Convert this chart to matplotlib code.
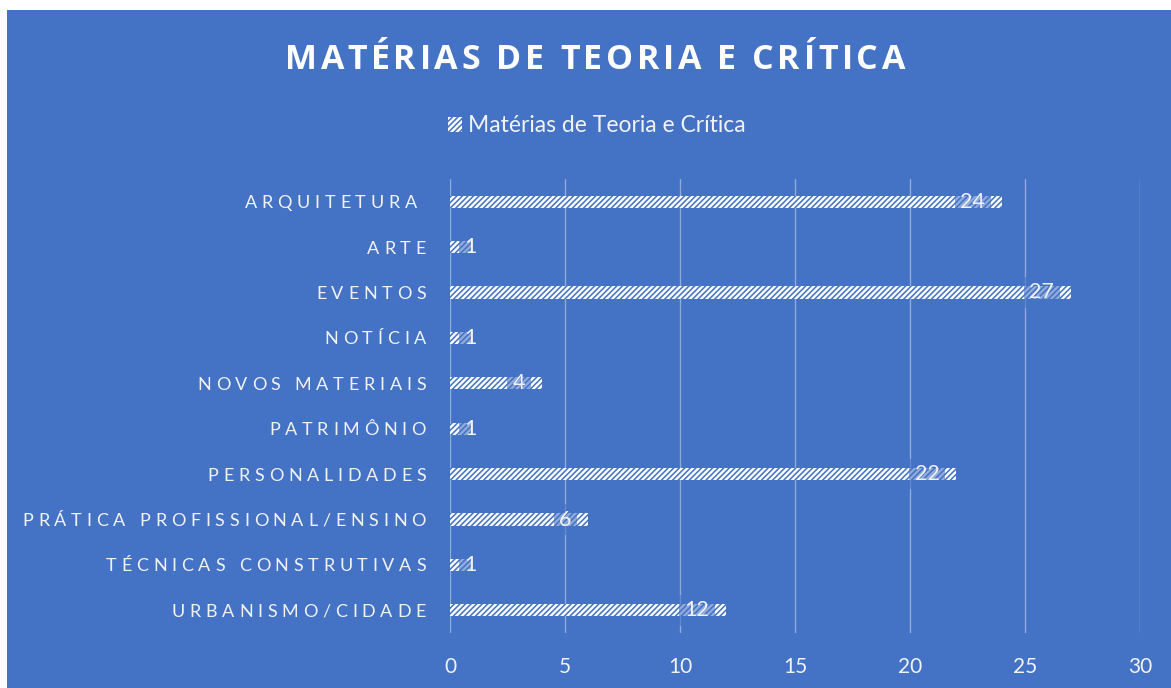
import matplotlib
matplotlib.use('Agg')
import matplotlib.pyplot as plt
from matplotlib.patches import Rectangle, Patch
from matplotlib.font_manager import FontProperties, findfont
from matplotlib.ft2font import FT2Font
from matplotlib.transforms import blended_transform_factory, offset_copy

# dados
categorias = ['ARQUITETURA ', 'ARTE', 'EVENTOS', 'NOTÍCIA', 'NOVOS MATERIAIS',
              'PATRIMÔNIO', 'PERSONALIDADES', 'PRÁTICA PROFISSIONAL/ENSINO',
              'TÉCNICAS CONSTRUTIVAS', 'URBANISMO/CIDADE']
valores = [24, 1, 27, 1, 4, 1, 22, 6, 1, 12]
x_ticks = [0, 5, 10, 15, 20, 25, 30]
titulo = 'MATÉRIAS DE TEORIA E CRÍTICA'
serie = 'Matérias de Teoria e Crítica'

azul = '#4472C4'
claro = '#F2F2F2'
plt.rcParams['font.family'] = ['Lato', 'DejaVu Sans']
plt.rcParams['hatch.linewidth'] = 1.7

W, H = 1171, 688
DPI = 100
fig = plt.figure(figsize=(W / DPI, H / DPI), dpi=DPI)
fig.patch.set_facecolor('white')
# fundo azul (com a margem branca em cima e a esquerda)
fig.add_artist(Rectangle((7 / W, 0), 1 - 7 / W, 1 - 10 / H, transform=fig.transFigure,
                         facecolor=azul, edgecolor='none', zorder=0))


def texto_espacado(x_px, y, s, size, track, transform, ha='left', family='Lato',
                   weight='normal', color='white'):
    """escreve o texto letra a letra com espaçamento extra (tracking) em px"""
    fp = FontProperties(family=family, weight=weight, size=size)
    f = FT2Font(findfont(fp))
    f.set_size(size, DPI)
    adv = [f.load_char(ord(c)).linearHoriAdvance / 65536 for c in s]
    total = sum(adv) + track * (len(s) - 1)
    x0 = x_px - total if ha == 'right' else (x_px - total / 2 if ha == 'center' else x_px)
    # linha de base abaixo do centro (metade da altura das maiúsculas)
    t = offset_copy(transform, fig=fig, y=-0.36 * size, units='points')
    for c, a in zip(s, adv):
        if c != ' ':
            fig.text(x0 / W, y, c, transform=t, fontproperties=fp,
                     color=color, ha='left', va='baseline')
        x0 += a + track


ax = fig.add_axes([450 / W, 1 - 633 / H, 690 / W, 454 / H])
ax.set_facecolor('none')

y = list(range(len(categorias)))
ax.barh(y, valores, height=0.27, color=azul, edgecolor='white', linewidth=0,
        hatch='//////', zorder=2)

# rótulos de valor
for yi, v in zip(y, valores):
    if v >= 4:
        ax.annotate(str(v), (v, yi), xytext=(-12, 0), textcoords='offset points',
                    ha='right', va='center', fontsize=15.5, color=claro, zorder=3,
                    bbox=dict(boxstyle='square,pad=0.25', facecolor=azul, alpha=0.6,
                              edgecolor='none'))
    else:
        ax.annotate(str(v), (v, yi), xytext=(-6.5, 0), textcoords='offset points',
                    ha='left', va='center', fontsize=15.5, color=claro, zorder=3,
                    bbox=dict(boxstyle='square,pad=0.25', facecolor=azul, alpha=0.6,
                              edgecolor='none'))

ax.set_xlim(0, 30)
ax.set_ylim(len(categorias) - 0.5, -0.5)
ax.set_xticks(x_ticks)
ax.set_yticks(y)
ax.set_yticklabels([])
ax.tick_params(axis='x', colors=claro, labelsize=15, length=0, pad=17)
ax.tick_params(axis='y', length=0)
ax.grid(axis='x', color='#8FAADC', linewidth=1, zorder=1)
ax.set_axisbelow(True)
for s in ax.spines.values():
    s.set_visible(False)

# rótulos das categorias (com espaçamento entre letras)
tr = blended_transform_factory(fig.transFigure, ax.transData)
for yi, c in zip(y, categorias):
    texto_espacado(426, yi, c, 13, 4.75, tr, ha='right', color=claro)

# título
texto_espacado(595, 1 - 57 / H, titulo, 24.5, 3.6, fig.transFigure, ha='center',
               family='Open Sans', weight='bold', color='white')

leg = fig.legend(handles=[Patch(facecolor=azul, edgecolor='white', linewidth=0,
                                hatch='//////', label=serie)],
                 loc='center', bbox_to_anchor=(597 / W, 1 - 126 / H), frameon=False,
                 fontsize=16.5, labelcolor=claro, handlelength=0.6, handleheight=0.6,
                 handletextpad=0.3)

plt.savefig('out.png', dpi=DPI)
